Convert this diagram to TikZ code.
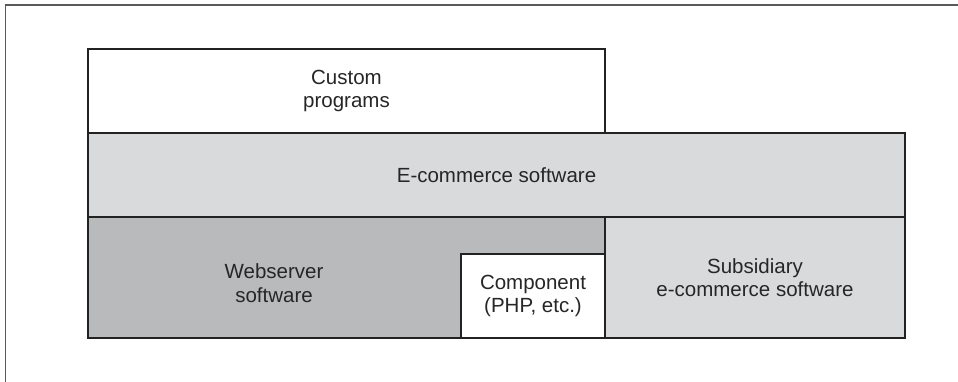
\documentclass[tikz,border=0pt]{standalone}
\usepackage{fontspec}
\setmainfont{Liberation Sans}
\definecolor{lightfill}{HTML}{D9DADB}
\definecolor{darkfill}{HTML}{B9BABC}
\definecolor{edge}{HTML}{222222}
\definecolor{framegray}{HTML}{5A5A5A}
\tikzset{
  blk/.style={draw=edge, line width=1.4pt, anchor=north west, inner sep=0pt, outer sep=0pt},
  lbl/.style={font=\fontsize{20.5}{23.5}\selectfont, align=center, text=black!85},
}
\begin{document}
\begin{tikzpicture}[x=1pt,y=-1pt]
\useasboundingbox (0,0) rectangle (958,382);
\coordinate (ftr) at (958,5);
\coordinate (ftl) at (5.5,5);
\coordinate (fbl) at (5.5,382);
\draw[framegray, line width=1.5pt] (ftr) -- (ftl) -- (fbl);
% custom programs
\node[blk, fill=white, minimum width=517pt, minimum height=84pt] (custom) at (88,49) {};
\node[lbl] (customtxt) at (custom.center) {Custom\\programs};
% e-commerce
\node[blk, fill=lightfill, minimum width=817pt, minimum height=84pt] (ecom) at (88,133) {};
\node[lbl] (ecomtxt) at (ecom.center) {E-commerce software};
% webserver
\node[blk, fill=darkfill, minimum width=517pt, minimum height=121pt] (web) at (88,217) {};
\node[lbl] (webtxt) at (274,283) {Webserver\\software};
% subsidiary
\node[blk, fill=lightfill, minimum width=300pt, minimum height=121pt] (sub) at (605,217) {};
\node[lbl] (subtxt) at (sub.center) {Subsidiary\\e-commerce software};
% component
\node[blk, fill=white, minimum width=144pt, minimum height=84pt] (comp) at (461,254) {};
\node[lbl] (comptxt) at (comp.center) {Component\\(PHP, etc.)};
\end{tikzpicture}
\end{document}
